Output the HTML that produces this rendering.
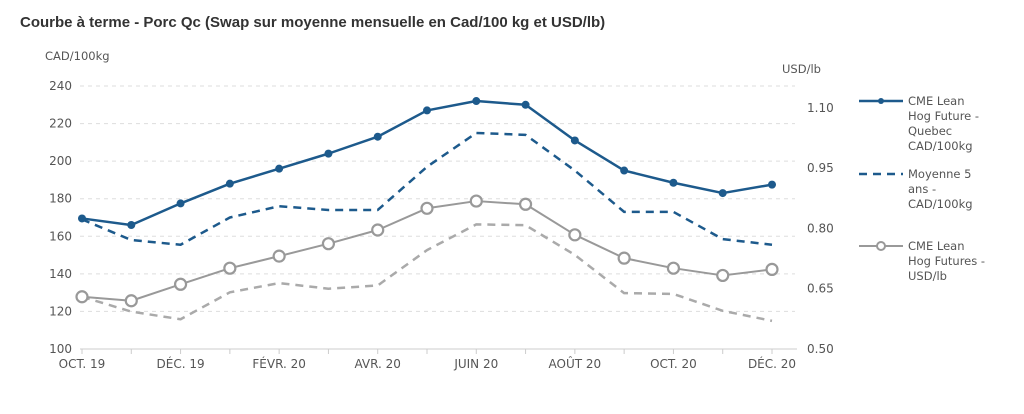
<!DOCTYPE html>
<html><head><meta charset="utf-8"><style>
body{margin:0;background:#fff;width:1024px;height:409px;overflow:hidden;font-family:"Liberation Sans",sans-serif}
text{font-family:"DejaVu Sans","Liberation Sans",sans-serif}
</style></head><body>
<svg id="c" width="1024" height="409" xmlns="http://www.w3.org/2000/svg">
<text x="20" y="27" style="font-family:'Liberation Sans',sans-serif" font-weight="bold" font-size="15" fill="#333">Courbe à terme - Porc Qc (Swap sur moyenne mensuelle en Cad/100 kg et USD/lb)</text>
<text x="45" y="60" font-size="11.5" fill="#555">CAD/100kg</text>
<text x="782" y="73" font-size="11.5" fill="#555">USD/lb</text>
<g id="grid"></g><g id="axes"></g><g id="series"></g>
<g font-size="11.5" fill="#555">
<g>
<line x1="859" y1="101" x2="903" y2="101" stroke="#1d5a8c" stroke-width="2.5"/><circle cx="881" cy="101" r="3" fill="#1d5a8c"/>
<text x="908" y="105">CME Lean</text><text x="908" y="120">Hog Future -</text><text x="908" y="135">Quebec</text><text x="908" y="150">CAD/100kg</text></g>
<g>
<line x1="859" y1="174" x2="903" y2="174" stroke="#1d5a8c" stroke-width="2.5" stroke-dasharray="8,6"/>
<text x="908" y="178">Moyenne 5</text><text x="908" y="193">ans -</text><text x="908" y="208">CAD/100kg</text></g>
<g>
<line x1="859" y1="246" x2="903" y2="246" stroke="#999" stroke-width="2"/><circle cx="881" cy="246" r="4" fill="#fff" stroke="#999" stroke-width="2"/>
<text x="908" y="250">CME Lean</text><text x="908" y="265">Hog Futures -</text><text x="908" y="280">USD/lb</text></g>
</g>
</svg>
<script>
const months=["OCT. 19","NOV. 19","DÉC. 19","JANV. 20","FÉVR. 20","MARS 20","AVR. 20","MAI 20","JUIN 20","JUIL. 20","AOÛT 20","SEPT. 20","OCT. 20","NOV. 20","DÉC. 20"];
const cmeCad=[169.5,166,177.5,188,196,204,213,227,232,230,211,195,188.5,183,187.5];
const avgCad=[169,158,155.5,170,176,174,174,197,215,214,195,173,173,158.5,155.5];
const cmeUsd=[0.630,0.620,0.661,0.701,0.731,0.762,0.796,0.850,0.868,0.860,0.784,0.726,0.701,0.683,0.698];
const avgUsd=[0.630,0.593,0.574,0.641,0.664,0.650,0.658,0.746,0.810,0.808,0.734,0.639,0.637,0.595,0.570];
const leftTicks=[100,120,140,160,180,200,220,240];
const rightTicks=[0.50,0.65,0.80,0.95,1.10];
const NS="http://www.w3.org/2000/svg";
const x0=82,x1=772,yB=349;
const xs=i=>x0+i*(x1-x0)/(months.length-1);
const yL=v=>yB-(v-100)*(263/140);
const yR=v=>yB-(v-0.5)*(241.2/0.6);
function mk(tag,attrs,parent){const e=document.createElementNS(NS,tag);for(const k in attrs)e.setAttribute(k,attrs[k]);parent.appendChild(e);return e;}
const grid=document.getElementById('grid'),axes=document.getElementById('axes'),ser=document.getElementById('series');
leftTicks.forEach(t=>{
  if(t>100){const l=mk('line',{x1:80,x2:795,y1:yL(t),y2:yL(t),stroke:'#ddd','stroke-dasharray':'4,4'},grid);
  
  }
  const tx=mk('text',{x:72,y:yL(t)+4,'text-anchor':'end','font-size':'12',fill:'#555'},axes);tx.textContent=t;
  
  
});
rightTicks.forEach(t=>{
  const tx=mk('text',{x:807,y:yR(t)+4,'font-size':'12',fill:'#555'},axes);tx.textContent=t.toFixed(2);
  
  
});
const ax=mk('line',{x1:80,x2:797,y1:yB,y2:yB,stroke:'#ccc'},axes);


months.forEach((m,i)=>{
  mk('line',{x1:xs(i),x2:xs(i),y1:yB,y2:yB+5,stroke:'#ccc'},axes);
  if(i%2===0){const tx=mk('text',{x:xs(i),y:yB+19,'text-anchor':'middle','font-size':'12',fill:'#555'},axes);tx.textContent=m;
  
  }
});
function line(vals,yf,color,w,dash,name){
  const p=mk('polyline',{points:vals.map((v,i)=>xs(i)+','+yf(v)).join(' '),fill:'none',stroke:color,'stroke-width':w,'stroke-dasharray':dash||'none','stroke-linejoin':'round'},ser);
  
  
}
line(avgUsd,yR,'#aaa',2.5,'8,6','series-avg-usd');
line(avgCad,yL,'#1d5a8c',2.5,'8,6','series-avg-cad');
line(cmeUsd,yR,'#999',2,null,'series-cme-usd');
line(cmeCad,yL,'#1d5a8c',2.5,null,'series-cme-cad');
cmeUsd.forEach((v,i)=>{const c=mk('circle',{cx:xs(i),cy:yR(v),r:5.5,fill:'#fff',stroke:'#999','stroke-width':2.2},ser);
  
  });
cmeCad.forEach((v,i)=>{const c=mk('circle',{cx:xs(i),cy:yL(v),r:4,fill:'#1d5a8c'},ser);
  
  });
</script>
</body></html>
